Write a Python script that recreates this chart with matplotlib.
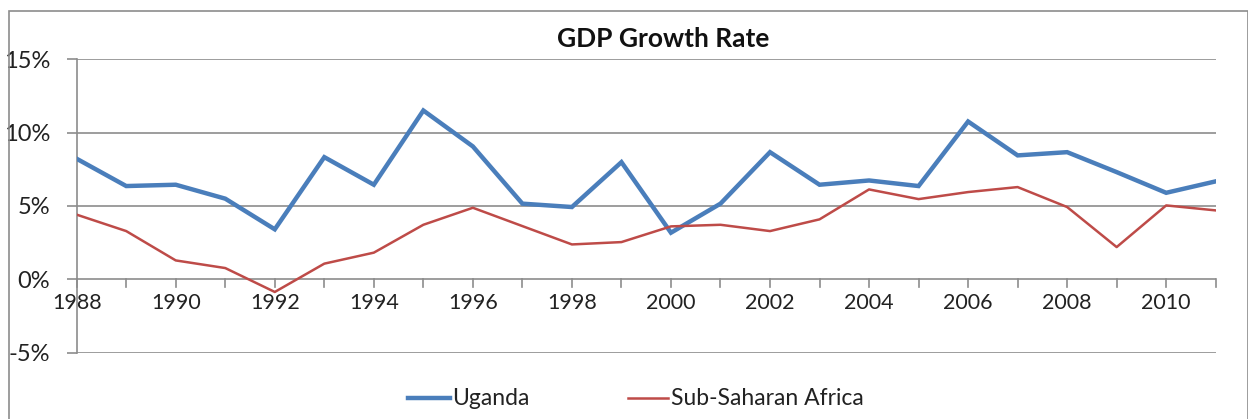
import numpy as np
import matplotlib
matplotlib.use('Agg')
import matplotlib.pyplot as plt
from matplotlib.patches import Rectangle
from matplotlib.ticker import FuncFormatter

years = list(range(1988, 2012))
uganda = [8.22, 6.36, 6.45, 5.50, 3.41, 8.33, 6.45, 11.51, 9.06, 5.16, 4.93, 7.99,
          3.18, 5.16, 8.67, 6.45, 6.74, 6.36, 10.76, 8.45, 8.67, 7.31, 5.90, 6.68]
ssa = [4.41, 3.29, 1.29, 0.77, -0.86, 1.07, 1.82, 3.72, 4.88, 3.63, 2.38, 2.54,
       3.61, 3.72, 3.29, 4.09, 6.13, 5.47, 5.95, 6.29, 4.93, 2.20, 5.04, 4.70]
series_names = ['Uganda', 'Sub-Saharan Africa']
y_ticks = [-5, 0, 5, 10, 15]
x_labels = list(range(1988, 2011, 2))

plt.rcParams['font.family'] = ['Lato', 'DejaVu Sans']

W, H = 1248, 419
fig = plt.figure(figsize=(W / 100, H / 100), dpi=100)

# outer chart frame
fig.patches.append(Rectangle((9 / W, -0.05), (1247.5 - 9) / W, 1.05 - 11 / H,
                             transform=fig.transFigure, fill=False,
                             edgecolor='#8c8c8c', linewidth=1.2))

ax = fig.add_axes([76.7 / W, 1 - 352.7 / H, (1215.7 - 76.7) / W, (352.7 - 59.3) / H])

grid_c = '#8c8c8c'
ax.plot(years, uganda, color='#4a7ebb', linewidth=3.2, solid_joinstyle='miter', zorder=3)
ax.plot(years, ssa, color='#be4b48', linewidth=1.8, zorder=3)

ax.set_xlim(years[0], years[-1])
ax.set_ylim(-5, 15)
ax.set_yticks(y_ticks)
ax.yaxis.set_major_formatter(FuncFormatter(lambda v, p: '%d%%' % v))
for y in y_ticks:
    ax.axhline(y, color=grid_c, linewidth=1.2, zorder=1)

for s in ['top', 'right', 'bottom']:
    ax.spines[s].set_visible(False)
ax.spines['left'].set_color(grid_c)
ax.spines['left'].set_linewidth(1.2)
ax.tick_params(axis='y', length=7, color=grid_c, width=1.2, labelsize=17,
               pad=12, labelcolor='#222222')

# x axis sits on the 0 line: ticks every year, labels every other year
ax.set_xticks([])
for yr in years:
    ax.plot([yr, yr], [0, -0.55], color=grid_c, linewidth=1.2, zorder=2, clip_on=False)
for yr in x_labels:
    ax.text(yr, -0.95, str(yr), ha='center', va='top', fontsize=15.5, color='#222222')

fig.text(663 / W, 1 - 39 / H, 'GDP Growth Rate', ha='center', va='center',
         fontsize=19, fontweight='bold', color='#111111')

# legend below the plot
ly = 1 - 398 / H
fig.add_artist(plt.Line2D([408 / W, 450 / W], [ly, ly], color='#4a7ebb', linewidth=3.2))
fig.text(452 / W, ly, series_names[0], ha='left', va='center', fontsize=16.5, color='#222222')
fig.add_artist(plt.Line2D([628 / W, 668 / W], [ly, ly], color='#be4b48', linewidth=1.8))
fig.text(671 / W, ly, series_names[1], ha='left', va='center', fontsize=16.5, color='#222222')

fig.savefig('out.png', dpi=100)
